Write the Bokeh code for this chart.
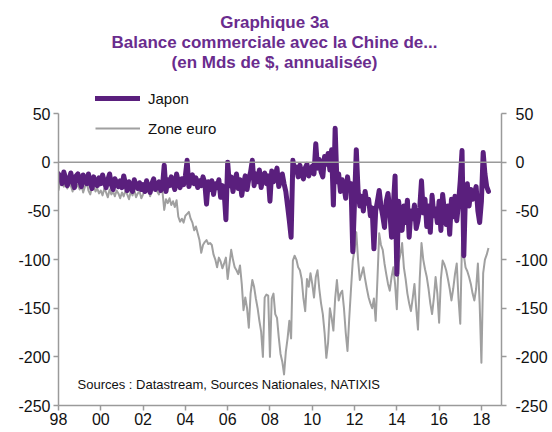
import numpy as np
from bokeh.plotting import figure
from bokeh.models import (ColumnDataSource, LinearAxis, Range1d, FixedTicker,
                          Span, Label, Legend, LegendItem)
from bokeh.embed import file_html
from bokeh.resources import INLINE

# ---------------- data (monthly, from Jan 1998) ----------------
start_year = 1998

japon = [
    -12, -15, -22, -10, -16, -24, -18, -11, -20, -26, -14, -12,   # 1998
    -19, -25, -13, -17, -22, -12, -20, -27, -15, -21, -24, -16,   # 1999
    -22, -13, -20, -26, -18, -12, -23, -28, -17, -21, -25, -19,   # 2000
    -26, -14, -22, -29, -20, -25, -30, -18, -24, -27, -21, -28,   # 2001
    -23, -30, -19, -26, -31, -22, -17, -28, -24, -20, -29, -25,   # 2002
    -3, -30, -18, -24, -15, -22, -28, -12, -20, -26, -17, -23,    # 2003
    -14, 2, -25, -18, -13, -22, -16, -26, -19, -24, -15, -21,     # 2004
    -43, -20, -28, -19, -33, -22, -26, -18, -36, -24, -30, -59,   # 2005
    0, -24, -15, -30, -20, -12, -27, -18, -34, -22, -14, -28,     # 2006
    -17, -10, 2, -24, -12, -20, -8, -26, -15, -11, -22, -14,      # 2007
    -40, -9, -20, -14, -6, -25, -18, -12, -22, -30, -45, -60,     # 2008
    -77, 2, -10, -5, -15, -3, -12, -17, -6, -2, -14, -8,          # 2009
    -4, -12, 19, -6, 3, -10, -15, 6, -2, 9, -8, 13,               # 2010
    -44, 35, -20, -12, -30, -18, -25, -37, -15, -28, -22, -92,    # 2011
    -40, 13, -29, -45, -35, -50, -30, -42, -38, -55, -47, -89,    # 2012
    -50, -40, -29, -45, -55, -67, -40, -32, -50, -77, -45, -14,   # 2013
    -115, -40, -55, -70, -45, -62, -39, -77, -50, -58, -44, -68,  # 2014
    -60, -47, -19, -52, -38, -66, -45, -72, -34, -55, -48, -62,   # 2015
    -40, -70, -33, -50, -64, -45, -74, -38, -56, -35, -60, -42,   # 2016
    -19, 12, -96, -30, -22, -45, -28, -38, -32, -25, -50, -62,    # 2017
    -40, 10, -12, -25, -30,                                       # 2018
]

zone_euro = [
    -29, -17, -22, -25, -19, -27, -21, -24, -30, -20, -26, -23,   # 1998
    -28, -22, -31, -25, -20, -29, -33, -26, -24, -30, -27, -32,   # 1999
    -29, -34, -27, -31, -36, -28, -33, -30, -35, -29, -32, -37,   # 2000
    -31, -35, -29, -33, -38, -30, -34, -28, -36, -32, -30, -37,   # 2001
    -33, -27, -30, -26, -35, -28, -18, -25, -30, -33, -28, -30,   # 2002
    -49, -38, -42, -37, -44, -40, -46, -39, -56, -61, -58, -62,   # 2003
    -55, -53, -51, -58, -62, -70, -66, -73, -80, -93, -85, -82,   # 2004
    -80, -84, -83, -85, -95, -100, -108, -98, -102, -109, -104, -98,   # 2005
    -120, -105, -90, -100, -108, -111, -115, -106, -125, -152, -139, -150,  # 2006
    -170, -135, -121, -128, -140, -150, -163, -174, -200, -139, -136, -137,  # 2007
    -200, -140, -135, -156, -160, -180, -197, -205, -218, -195, -181, -163,  # 2008
    -181, -101, -96, -100, -108, -111, -120, -140, -153, -120, -128, -114,   # 2009
    -125, -139, -118, -111, -130, -145, -156, -175, -201, -185, -150, -160,  # 2010
    -173, -140, -121, -142, -135, -132, -150, -175, -194, -160, -130, -101,  # 2011
    -90, -72, -100, -121, -115, -108, -120, -130, -139, -145, -150, -140,    # 2012
    -163, -120, -73, -85, -90, -104, -115, -125, -132, -118, -108, -125,     # 2013
    -151, -103, -95, -83, -108, -120, -135, -145, -153, -140, -125, -150,    # 2014
    -172, -120, -83, -100, -110, -118, -130, -145, -156, -140, -118, -135,   # 2015
    -165, -120, -101, -105, -111, -120, -130, -142, -130, -115, -104, -140,  # 2016
    -166, -80, -95, -108, -112, -118, -125, -135, -142, -130, -104, -145,    # 2017
    -206, -114, -100, -95, -88,                                               # 2018
]

x_ticks = [1998, 2000, 2002, 2004, 2006, 2008, 2010, 2012, 2014, 2016, 2018]
x_tick_labels = ["98", "00", "02", "04", "06", "08", "10", "12", "14", "16", "18"]
y_ticks = [50, 0, -50, -100, -150, -200, -250]
y_tick_labels = ["50", "0", "-50", "-100", "-150", "-200", "-250"]

title_lines = ["Graphique 3a",
               "Balance commerciale avec la Chine de...",
               "(en Mds de $, annualisée)"]
source_text = "Sources : Datastream, Sources Nationales, NATIXIS"

# ---------------- styles ----------------
FONT = "Liberation Sans"
PURPLE = "#5A1F7D"
TITLE_PURPLE = "#6A2C8E"
GREY = "#A0A0A0"
AXIS_GREY = "#9A9A9A"

n = len(japon)
t = start_year + np.arange(n) / 12.0
src = ColumnDataSource(dict(t=t, japon=japon, euro=zone_euro))

# frame covers the whole upper area so the title/legend sit inside it;
# the y axes are bounded to -250..50
p = figure(width=552, height=432, output_backend="svg", toolbar_location=None,
           x_range=Range1d(1998.0, 2018.95), y_range=Range1d(-250, 166.3),
           min_border_left=58, min_border_right=51, min_border_top=0,
           min_border_bottom=27, y_axis_location=None)
p.outline_line_color = None
p.xgrid.visible = False
p.ygrid.visible = False
p.background_fill_color = "white"
p.border_fill_color = "white"

# zero line
p.add_layout(Span(location=0, dimension="width", line_color=AXIS_GREY, line_width=1.5))

r_euro = p.line("t", "euro", source=src, line_color=GREY, line_width=2,
                line_join="round")
r_jap = p.line("t", "japon", source=src, line_color=PURPLE, line_width=5,
               line_join="round", line_cap="round")

# axes
def style_axis(ax):
    ax.axis_line_color = AXIS_GREY
    ax.axis_line_width = 1.5
    ax.major_tick_line_color = AXIS_GREY
    ax.major_tick_line_width = 1.5
    ax.major_tick_in = 0
    ax.major_tick_out = 5
    ax.minor_tick_line_color = None
    ax.major_label_text_font = FONT
    ax.major_label_text_font_size = "16px"
    ax.major_label_text_color = "#111111"

xa = p.xaxis[0]
xa.ticker = FixedTicker(ticks=x_ticks)
xa.major_label_overrides = {tk: lb for tk, lb in zip(x_ticks, x_tick_labels)}
style_axis(xa)
xa.major_label_standoff = 2

y_overrides = {tk: lb for tk, lb in zip(y_ticks, y_tick_labels)}

left = LinearAxis(ticker=FixedTicker(ticks=y_ticks), bounds=(-250, 50),
                  major_label_overrides=y_overrides)
style_axis(left)
left.major_label_standoff = 3
p.add_layout(left, "left")

right = LinearAxis(ticker=FixedTicker(ticks=y_ticks), bounds=(-250, 50),
                   major_label_overrides=y_overrides)
style_axis(right)
right.major_label_standoff = 9
p.add_layout(right, "right")

# legend
legend = Legend(items=[LegendItem(label="Japon", renderers=[r_jap]),
                       LegendItem(label="Zone euro", renderers=[r_euro])],
                location=(37, 267), orientation="vertical",
                glyph_width=45, glyph_height=20, label_standoff=8,
                label_height=20, spacing=10, padding=0, margin=0,
                border_line_color=None, background_fill_alpha=0,
                label_text_font=FONT, label_text_font_size="15px",
                label_text_color="#111111")
p.add_layout(legend, "center")

# title (three centred lines)
for i, line in enumerate(title_lines):
    p.add_layout(Label(x=216, y=383 - 20 * i, x_units="screen", y_units="screen",
                       text=line, text_align="center", text_baseline="middle",
                       text_font=FONT, text_font_size="17px",
                       text_font_style="bold", text_color=TITLE_PURPLE))

# sources note
p.add_layout(Label(x=19, y=21, x_units="screen", y_units="screen",
                   text=source_text, text_align="left", text_baseline="middle",
                   text_font=FONT, text_font_size="13px", text_color="#111111"))

open("out.html", "w").write(file_html(p, INLINE))
